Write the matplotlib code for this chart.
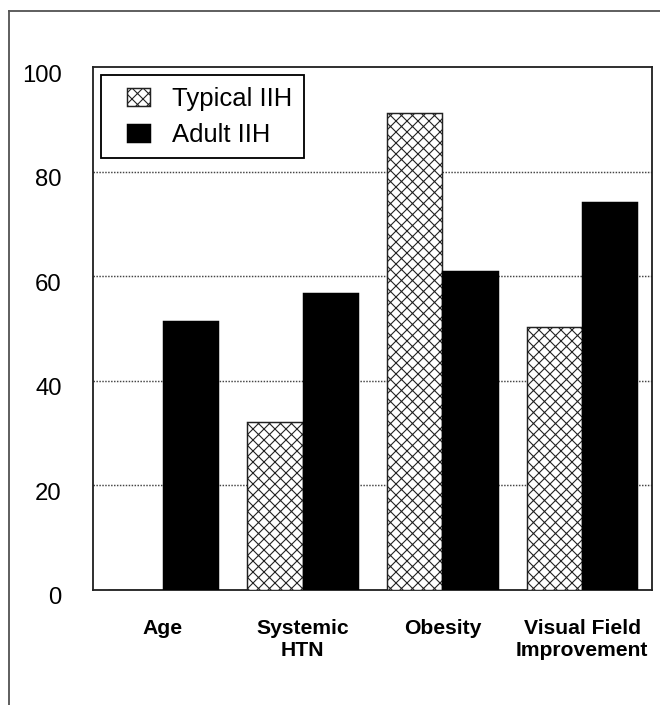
import numpy as np
import matplotlib
matplotlib.use("Agg")
import matplotlib.pyplot as plt
from matplotlib.lines import Line2D
from matplotlib.patches import Rectangle
from matplotlib.legend_handler import HandlerPatch
from matplotlib.transforms import ScaledTranslation

# values (percent)
categories = ["Age", "Systemic\nHTN", "Obesity", "Visual Field\nImprovement"]
typical_iih = [0, 32.2, 91.2, 50.2]
adult_iih = [51.5, 56.7, 61.0, 74.2]
y_ticks = [0, 20, 40, 60, 80, 100]

plt.rcParams['font.family'] = ['Liberation Sans', 'DejaVu Sans']
plt.rcParams['hatch.linewidth'] = 0.6

dpi = 132
fig = plt.figure(figsize=(660 / dpi, 705 / dpi), dpi=dpi)
ax = fig.add_axes([93 / 660, 1 - 590 / 705, 559 / 660, 523 / 705])

x = np.arange(len(categories))
width = 0.395

bars_typ = ax.bar(x - width / 2, typical_iih, width, color='white', edgecolor='#222222',
                  hatch='xxxx', linewidth=0.8, label='Typical IIH', zorder=3)
bars_adu = ax.bar(x + width / 2, adult_iih, width, color='black', edgecolor='black',
                  linewidth=0.8, label='Adult IIH', zorder=3)

ax.set_xlim(-0.5, len(categories) - 0.5)
ax.set_ylim(0, 100)
ax.set_yticks(y_ticks)
ax.set_xticks(x)
ax.set_xticklabels(categories, fontsize=11.5, fontweight='bold', linespacing=1.2)
ax.tick_params(axis='both', length=0)
ax.tick_params(axis='y', labelsize=13, pad=17)
ax.tick_params(axis='x', pad=16)

# nudge y tick labels slightly below their grid lines, like the original
offset = ScaledTranslation(0, -6 / dpi, fig.dpi_scale_trans)
for lab in ax.get_yticklabels():
    lab.set_transform(lab.get_transform() + offset)

for yv in y_ticks[1:-1]:
    ax.axhline(yv, color='#444444', linestyle=(0, (1, 1)), linewidth=0.8, zorder=1)

for sp in ax.spines.values():
    sp.set_linewidth(1.0)
    sp.set_color('#222222')


# small square swatch sitting at the right end of the handle area
def square_patch(legend, orig_handle, xdescent, ydescent, width, height, fontsize):
    sq = 0.9 * fontsize
    return Rectangle((-xdescent + width - sq, -ydescent), sq, height)


leg = ax.legend([bars_typ.patches[0], bars_adu.patches[0]], ['Typical IIH', 'Adult IIH'],
                loc='upper left', fontsize=14, frameon=True, fancybox=False,
                edgecolor='black', framealpha=1, borderpad=0.45,
                handlelength=1.45, handleheight=0.7, handletextpad=0.85,
                labelspacing=0.45, borderaxespad=0.33,
                handler_map={Rectangle: HandlerPatch(patch_func=square_patch)})
leg.get_frame().set_linewidth(1.0)

# outer frame lines of the original figure panel
fig.add_artist(Line2D([9 / 660, 1], [1 - 11 / 705, 1 - 11 / 705],
                      transform=fig.transFigure, color='#555555', linewidth=1))
fig.add_artist(Line2D([9 / 660, 9 / 660], [0, 1 - 11 / 705],
                      transform=fig.transFigure, color='#555555', linewidth=1))

plt.savefig("out.png", dpi=dpi)
